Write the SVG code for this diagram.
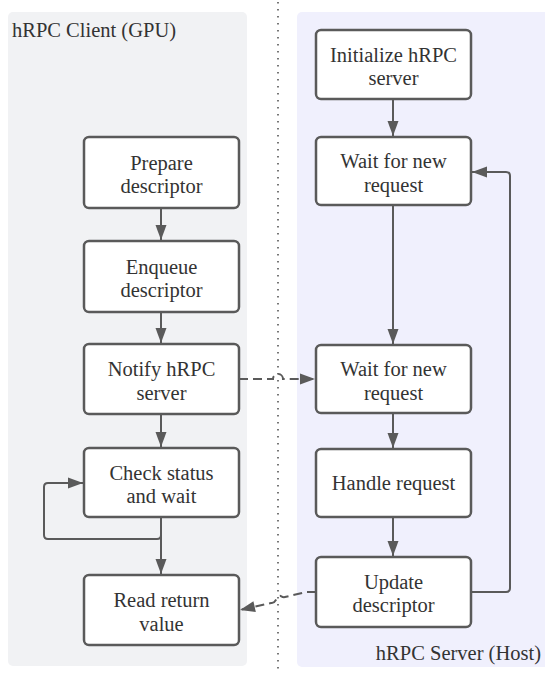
<svg xmlns="http://www.w3.org/2000/svg" width="545" height="673" viewBox="0 0 545 673">
<defs>
<style>
.bg{fill:#ffffff}
.client{fill:#f1f2f4}
.server{fill:#f0f0fd}
.node rect{fill:#ffffff;stroke:#5a5a5a;stroke-width:2.5}
.node text,.title{font-family:"Liberation Serif","Times New Roman",Times,serif;font-size:20.5px;fill:#333333;text-anchor:middle}
.title{text-anchor:start}
.title.end{text-anchor:end}
.edge{fill:none;stroke:#5a5a5a;stroke-width:2}
.dash{stroke-dasharray:9 5}
.sep{stroke:#555;stroke-width:1.6;stroke-dasharray:1.6 5.4;fill:none}
</style>
<marker id="arr" viewBox="0 0 15 11" refX="15" refY="5.5" markerWidth="15" markerHeight="11" markerUnits="userSpaceOnUse" orient="auto" overflow="visible">
<path d="M0,0 L15,5.5 L0,11 Z" fill="#5a5a5a"/>
</marker>
</defs>
<rect class="bg" x="0" y="0" width="545" height="673"/>
<g id="lane-client">
<rect class="client" x="8" y="12" width="239" height="654" rx="5"/>
<text class="title" x="12" y="37">hRPC Client (GPU)</text>
</g>
<g id="lane-server">
<rect class="server" x="297" y="12" width="256" height="655" rx="5"/>
<text class="title end" x="541" y="660">hRPC Server (Host)</text>
</g>
<line class="sep" x1="278" y1="2" x2="278" y2="673"/>
<g id="connectors">
<path class="edge" d="M161,208 V240" marker-end="url(#arr)"/>
<path class="edge" d="M161,312 V343" marker-end="url(#arr)"/>
<path class="edge" d="M161,414 V447" marker-end="url(#arr)"/>
<path class="edge" d="M161,517 V574" marker-end="url(#arr)"/>
<path class="edge" d="M161,535 Q161,539 157,539 H48 Q44,539 44,535 V487 Q44,483 48,483 H83" marker-end="url(#arr)"/>
<path class="edge" d="M393,99 V136" marker-end="url(#arr)"/>
<path class="edge" d="M393,205 V344" marker-end="url(#arr)"/>
<path class="edge" d="M393,413 V448" marker-end="url(#arr)"/>
<path class="edge" d="M393,517 V556" marker-end="url(#arr)"/>
<path class="edge" d="M471,592 H506 Q510,592 510,588 V176 Q510,172 506,172 H472" marker-end="url(#arr)"/>
<path class="edge dash" d="M239,379 H273 A5,5 0 0 1 283,379 H315" marker-end="url(#arr)"/>
<path class="edge dash" d="M316,592 H306 L285,597 C281,598 281,594 278,597 C275,600 275,604 271,603 L240,610" marker-end="url(#arr)"/>
</g>
<g id="n-prepare" class="node"><rect x="84" y="137" width="155" height="71" rx="5"/><text x="161.5" y="169.5">Prepare</text><text x="161.5" y="193">descriptor</text></g>
<g id="n-enqueue" class="node"><rect x="84" y="241" width="155" height="71" rx="5"/><text x="161.5" y="273.5">Enqueue</text><text x="161.5" y="297">descriptor</text></g>
<g id="n-notify" class="node"><rect x="84" y="344" width="155" height="70" rx="5"/><text x="161.5" y="376">Notify hRPC</text><text x="161.5" y="399.5">server</text></g>
<g id="n-check" class="node"><rect x="84" y="448" width="155" height="69" rx="5"/><text x="161.5" y="479.5">Check status</text><text x="161.5" y="503">and wait</text></g>
<g id="n-read" class="node"><rect x="84" y="575" width="155" height="70" rx="5"/><text x="161.5" y="607">Read return</text><text x="161.5" y="630.5">value</text></g>
<g id="n-init" class="node"><rect x="316" y="30" width="155" height="69" rx="5"/><text x="393.5" y="61.5">Initialize hRPC</text><text x="393.5" y="85">server</text></g>
<g id="n-wait1" class="node"><rect x="316" y="137" width="155" height="68" rx="5"/><text x="393.5" y="168">Wait for new</text><text x="393.5" y="191.5">request</text></g>
<g id="n-wait2" class="node"><rect x="316" y="345" width="155" height="68" rx="5"/><text x="393.5" y="376">Wait for new</text><text x="393.5" y="399.5">request</text></g>
<g id="n-handle" class="node"><rect x="316" y="449" width="155" height="68" rx="5"/><text x="393.5" y="490">Handle request</text></g>
<g id="n-update" class="node"><rect x="316" y="557" width="155" height="70" rx="5"/><text x="393.5" y="588.5">Update</text><text x="393.5" y="612">descriptor</text></g>
</svg>
